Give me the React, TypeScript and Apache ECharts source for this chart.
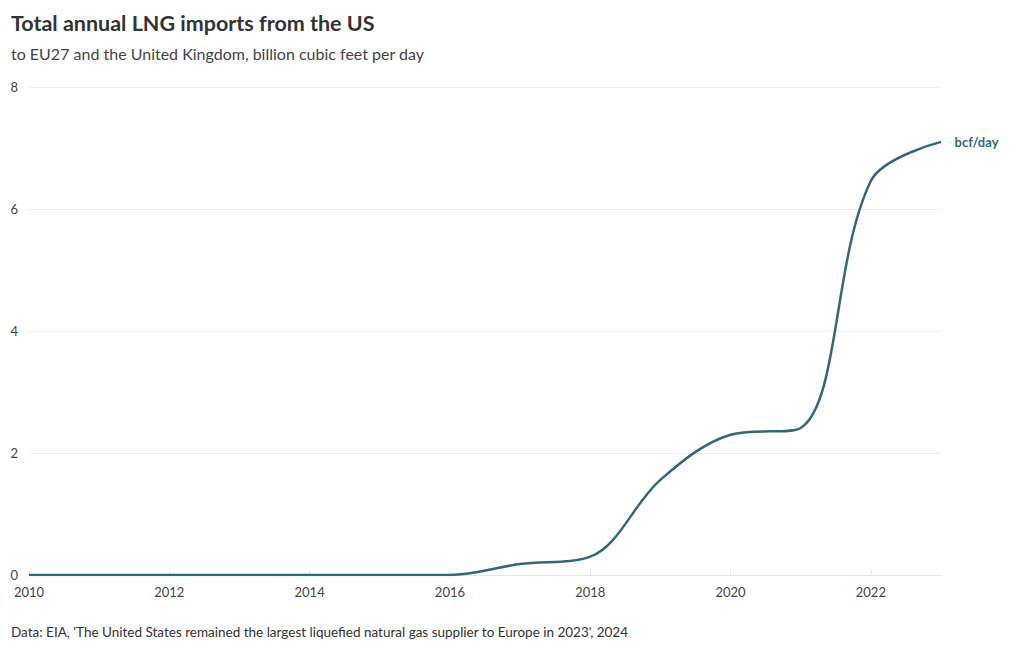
import React, { useEffect, useRef } from "react";
import * as echarts from "echarts";

const years = ["2010","2011","2012","2013","2014","2015","2016","2017","2018","2019","2020","2021","2022","2023"];
const values = [0, 0, 0, 0, 0, 0, 0, 0.18, 0.3, 1.56, 2.3, 2.41, 6.46, 7.1];
const yTicks = [0, 2, 4, 6, 8];

const FONT = "Lato, 'Noto Sans', sans-serif";

export default function App() {
  const ref = useRef<HTMLDivElement>(null);
  useEffect(() => {
    const chart = echarts.init(ref.current!, null, { renderer: "svg" });
    chart.setOption({
      animation: false,
      textStyle: { fontFamily: FONT },
      title: [
        {
          text: "Total annual LNG imports from the US",
          left: 11, top: 12, padding: 0,
          textStyle: { fontSize: 21.5, fontWeight: "bold", color: "#333", fontFamily: FONT },
        },
        {
          text: "to EU27 and the United Kingdom, billion cubic feet per day",
          left: 11, top: 45, padding: 0,
          textStyle: { fontSize: 16, fontWeight: "normal", color: "#444", fontFamily: FONT },
        },
        {
          text: "Data: EIA, 'The United States remained the largest liquefied natural gas supplier to Europe in 2023', 2024",
          left: 11, top: 625, padding: 0,
          textStyle: { fontSize: 13.5, fontWeight: "normal", color: "#333", fontFamily: FONT },
        },
      ],
      grid: { left: 29, right: 79, top: 87, bottom: 75 },
      xAxis: {
        type: "category",
        data: years,
        boundaryGap: false,
        axisLine: { show: true, lineStyle: { color: "#e6e6e6" } },
        axisTick: { show: true, inside: true, length: 5, interval: 1, lineStyle: { color: "#e6e6e6" } },
        axisLabel: { interval: 1, color: "#444", fontSize: 13, margin: 10, fontFamily: FONT },
        splitLine: { show: false },
      },
      yAxis: {
        type: "value",
        min: yTicks[0],
        max: yTicks[yTicks.length - 1],
        interval: 2,
        axisLine: { show: false },
        axisTick: { show: false },
        axisLabel: { color: "#444", fontSize: 13, margin: 11, fontFamily: FONT },
        splitLine: { show: true, lineStyle: { color: "#ececec" } },
      },
      series: [
        {
          type: "line",
          data: values,
          smooth: 0.35,
          symbol: "none",
          lineStyle: { color: "#386679", width: 2.5 },
          endLabel: {
            show: true,
            formatter: "{d|-} {b|bcf/day}",
            distance: 6,
            rich: {
              d: { color: "#cccccc", fontSize: 12, fontFamily: FONT },
              b: { color: "#386679", fontSize: 13, fontWeight: "bold", fontFamily: FONT },
            },
          },
        },
      ],
    });
    return () => chart.dispose();
  }, []);
  return <div ref={ref} style={{ position: "fixed", left: 0, top: 0, width: 1020, height: 650, background: "#fff" }} />;
}
